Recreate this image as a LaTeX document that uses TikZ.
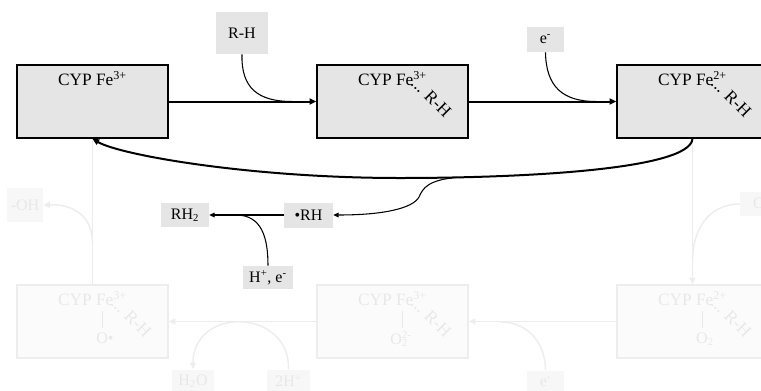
\documentclass[tikz,border=0pt]{standalone}
\usepackage{fontspec}
\setmainfont{Liberation Serif}
\usetikzlibrary{arrows.meta}
\begin{document}
\begin{tikzpicture}[x=0.75pt,y=-0.75pt, font=\fontsize{12}{14}\selectfont,
  bigbox/.style={draw=black, line width=1.2pt, fill=gray!20, minimum width=113.25pt, minimum height=54.75pt, inner sep=0pt},
  fadebox/.style={draw=black!7, line width=1.1pt, fill=black!1.5, minimum width=113.25pt, minimum height=54.75pt, inner sep=0pt},
  lab/.style={fill=gray!20, inner sep=0pt},
  flab/.style={fill=black!3, inner sep=0pt, text=black!9},
  ftxt/.style={text=black!9, inner sep=0pt},
  btxt/.style={inner sep=0pt},
  boxtxt/.style={inner sep=0pt, font=\fontsize{13}{15}\selectfont},
  mainarrow/.style={line width=1.5pt, -{Triangle[length=5pt,width=4.5pt]}},
  thinline/.style={line width=0.8pt},
  thinarrow/.style={line width=0.8pt, -{Triangle[length=4pt,width=3.5pt]}},
  faint/.style={draw=black!7, line width=1.1pt},
  faintarrow/.style={draw=black!7, line width=1.1pt, -{Triangle[length=5pt,width=4.5pt]}},
]
\useasboundingbox (0,0) rectangle (761,390);

% ---------- faded lower cycle ----------
\node[fadebox] (b4) at (92.5,321.5) {};
\node[fadebox] (b5) at (392.5,321.5) {};
\node[fadebox] (b6) at (692.5,321.5) {};

\node[boxtxt, text=black!9, anchor=base] (t4) at (92.5,305.5) {CYP Fe\textsuperscript{3+}};
\node[boxtxt, text=black!9, anchor=base] (t5) at (392.5,305.5) {CYP Fe\textsuperscript{3+}};
\node[boxtxt, text=black!9, anchor=base] (t6) at (692.5,305.5) {CYP Fe\textsuperscript{2+}};

\node[boxtxt, text=black!9, rotate=-45, anchor=base west] (r4) at (110,304) {... R-H};
\node[boxtxt, text=black!9, rotate=-45, anchor=base west] (r5) at (410,304) {... R-H};
\node[boxtxt, text=black!9, rotate=-45, anchor=base west] (r6) at (710,304) {... R-H};

\draw[black!9, line width=0.6pt] (102.5,311) -- (102.5,328);
\draw[black!9, line width=0.6pt] (402.5,311) -- (402.5,328);
\draw[black!9, line width=0.6pt] (702.5,311) -- (702.5,328);

\node[ftxt] (o4) at (105,338) {O•};
\node[ftxt] (o5) at (401,339) {O\rlap{\textsubscript{2}}\textsuperscript{2-}};
\node[ftxt] (o6) at (705,339) {O\textsubscript{2}};

\node[flab, minimum width=27pt, minimum height=25.5pt] (oh) at (25,205) {-OH};
\node[flab, minimum width=33pt, minimum height=18pt] (o2) at (762,204) {O\textsubscript{2}};
\node[flab, minimum width=31.5pt, minimum height=17.25pt] (h2o) at (193,381) {H\textsubscript{2}O};
\node[flab, minimum width=32.25pt, minimum height=17.25pt] (hp) at (288.5,381) {2H\textsuperscript{+}};
\node[flab, minimum width=27.75pt, minimum height=17.25pt] (eb) at (545.5,382) {e\textsuperscript{-}};

\coordinate (v1) at (92.5,243);
\coordinate (v2) at (692.5,262);
\coordinate (v3) at (500,322);

\node[bigbox] (b1) at (92.5,101.5) {};
\node[bigbox] (b2) at (392.5,101.5) {};
\node[bigbox] (b3) at (692.5,101.5) {};

\draw[faint] (b1.south) -- (b4.north);
\draw[faintarrow] (b3.south) -- (b6.north);
\draw[faintarrow] (v1) .. controls (92.5,215) and (72,204) .. (oh.east);
\draw[faint] (o2.west) .. controls (712,204) and (692.5,225) .. (v2);
\draw[faintarrow] (b6.west) -- (b5.east);
\draw[faintarrow] (b5.west) -- (b4.east);
\draw[faint] (eb.north) .. controls (545.5,345) and (530,322) .. (v3);
\draw[faintarrow] (hp.north) .. controls (290,308) and (193,306) .. (h2o.north);

% ---------- main upper cycle ----------
\node[boxtxt, anchor=base] (t1) at (92.5,85.5) {CYP Fe\textsuperscript{3+}};
\node[boxtxt, anchor=base] (t2) at (392.5,85.5) {CYP Fe\textsuperscript{3+}};
\node[boxtxt, anchor=base] (t3) at (692.5,85.5) {CYP Fe\textsuperscript{2+}};
\node[boxtxt, rotate=-45, anchor=base west] (r2) at (410,84) {... R-H};
\node[boxtxt, rotate=-45, anchor=base west] (r3) at (710,84) {... R-H};

\node[lab, minimum width=39pt, minimum height=31.5pt] (rh) at (242,33) {R-H};
\node[lab, minimum width=27.75pt, minimum height=18.75pt] (em) at (545.5,39.5) {e\textsuperscript{-}};
\node[lab, minimum width=36.75pt, minimum height=18.75pt] (rhdot) at (308.5,215) {•RH};
\node[lab, minimum width=36pt, minimum height=18pt] (rh2) at (185,215) {RH\textsubscript{2}};
\node[lab, minimum width=37.5pt, minimum height=17.25pt] (hpe) at (268,277.5) {H\textsuperscript{+}, e\textsuperscript{-}};

\coordinate (j1) at (292,101.5);
\coordinate (j2) at (596,101.5);
\coordinate (j3) at (236,215);
\coordinate (br) at (457,177.4);

\draw[mainarrow] (b1.east) -- (b2.west);
\draw[mainarrow] (b2.east) -- (b3.west);
\draw[thinline] (rh.south) .. controls (241,88) and (258,101.5) .. (j1);
\draw[thinline] (em.south) .. controls (546,86) and (562,101.5) .. (j2);

\draw[mainarrow] (b3.south) .. controls (690,170) and (520,178) .. (400,178)
   .. controls (250,178) and (120,155) .. (b1.south);

\draw[thinarrow] (br) .. controls (428,180) and (423,188) .. (419,197)
   .. controls (413,208) and (385,215) .. (rhdot.east);
\draw[thinarrow] (rhdot.west) -- (rh2.east);
\draw[thinline] (hpe.north) .. controls (268,238) and (262,215) .. (j3);
\end{tikzpicture}
\end{document}
